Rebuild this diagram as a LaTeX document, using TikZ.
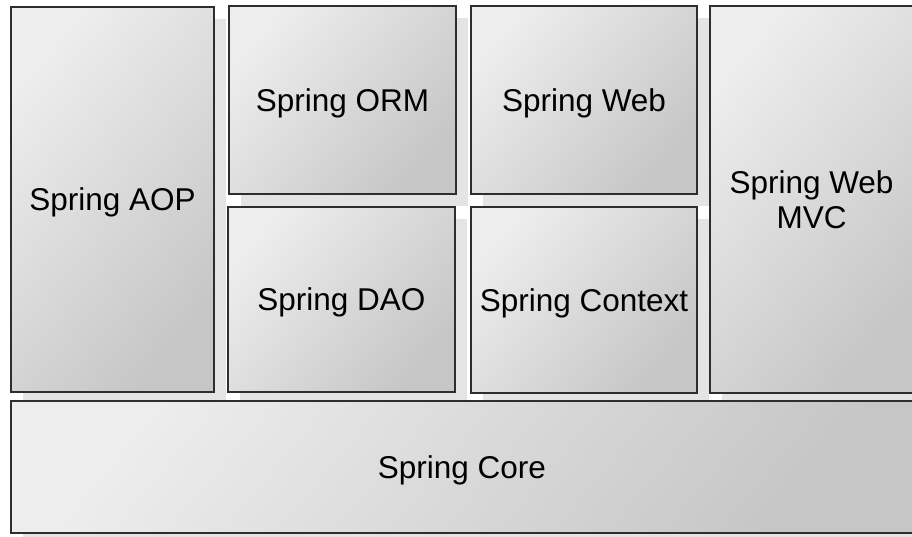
\documentclass[tikz,border=0pt]{standalone}
\usepackage{fontspec}
\setmainfont{Liberation Sans}
\usetikzlibrary{backgrounds}
\definecolor{boxlight}{HTML}{EDEDED}
\definecolor{boxdark}{HTML}{C6C6C6}
\definecolor{boxline}{HTML}{2E2E2E}
\definecolor{shadowc}{HTML}{E4E4E4}
\tikzset{
  module/.style={draw=boxline, line width=1.1pt, inner sep=0pt, outer sep=0pt,
    top color=boxlight, bottom color=boxdark, shading angle=50,
    align=center, font=\fontsize{31.5}{35}\selectfont},
  onelabel/.style={text depth=0pt}
}
\newcommand{\modshadow}[1]{%
  \fill[shadowc] ([shift={(12pt,-12pt)}]#1.north west) rectangle ([shift={(12pt,-12pt)}]#1.south east);}
\begin{document}
\begin{tikzpicture}[x=1pt,y=-1pt]
\useasboundingbox (0,0) rectangle (912,537);
\node[module, onelabel, minimum width=203pt, minimum height=385pt] (aop) at (112.5,199.5) {Spring AOP};
\node[module, onelabel, minimum width=227pt, minimum height=188pt] (orm) at (342.5,100) {Spring ORM};
\node[module, onelabel, minimum width=226pt, minimum height=188pt] (web) at (584,100) {Spring Web};
\node[module, minimum width=203pt, minimum height=387pt] (mvc) at (811.5,199.5) {Spring Web\\MVC};
\node[module, onelabel, minimum width=227pt, minimum height=185pt] (dao) at (341.5,299.5) {Spring DAO};
\node[module, onelabel, minimum width=226pt, minimum height=186pt] (ctx) at (584,300) {Spring Context};
\node[module, onelabel, minimum width=902pt, minimum height=132pt] (core) at (462,467) {Spring Core};
\begin{scope}[on background layer]
  \fill[white] (0,0) rectangle (912,537);
  \modshadow{aop}
  \modshadow{orm}
  \modshadow{web}
  \modshadow{mvc}
  \modshadow{dao}
  \modshadow{ctx}
  \modshadow{core}
\end{scope}
\end{tikzpicture}
\end{document}
